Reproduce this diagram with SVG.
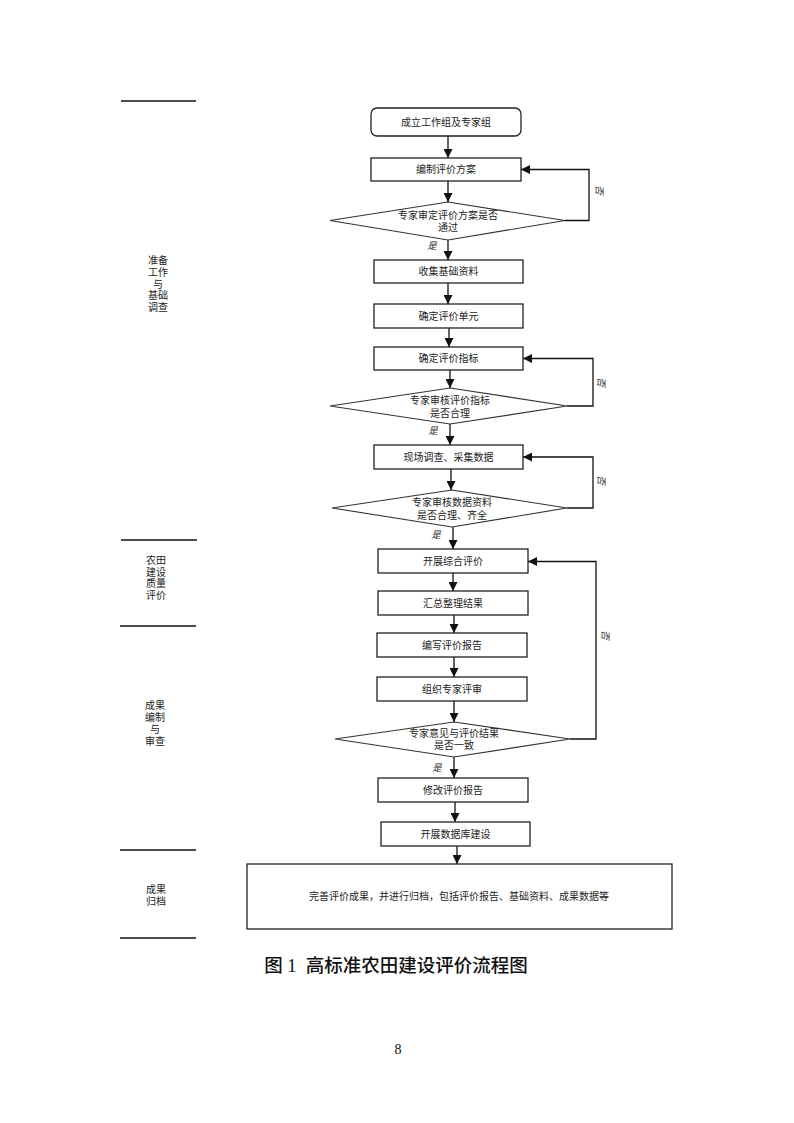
<svg xmlns="http://www.w3.org/2000/svg" width="794" height="1123" viewBox="0 0 794 1123">
<style>
.bg{fill:#fff}
.box{fill:#fff;stroke:#222;stroke-width:1.3}
.dia{fill:#fff;stroke:#333;stroke-width:1.2}
.t{font-family:"Noto Sans CJK SC",sans-serif;font-size:10px;fill:#222;text-anchor:middle}
.lab{font-family:"Noto Sans CJK SC",sans-serif;font-size:10px;fill:#222;text-anchor:middle}
.yn{font-family:"Noto Sans CJK SC",sans-serif;font-size:9.5px;fill:#222;text-anchor:middle;font-style:italic}
.sep{stroke:#111;stroke-width:1.5}
.c{fill:none;stroke:#111;stroke-width:1.3}
</style>
<defs>
<marker id="ah" markerUnits="userSpaceOnUse" markerWidth="9" markerHeight="9" viewBox="0 0 10 10" refX="10" refY="5" orient="auto">
<path d="M0,0 L10,5 L0,10 z" fill="#111"/>
</marker>
</defs>
<rect class="bg" x="0" y="0" width="794" height="1123"/>

<g id="stages">
<line class="sep" x1="121" y1="101" x2="196" y2="101"/>
<text class="lab"><tspan x="158" y="264">准备</tspan><tspan x="158" y="276">工作</tspan><tspan x="158" y="287.5">与</tspan><tspan x="158" y="299">基础</tspan><tspan x="158" y="311">调查</tspan></text>
<line class="sep" x1="121" y1="540" x2="197" y2="540"/>
<text class="lab"><tspan x="156" y="564">农田</tspan><tspan x="156" y="575.5">建设</tspan><tspan x="156" y="587">质量</tspan><tspan x="156" y="599">评价</tspan></text>
<line class="sep" x1="120" y1="626" x2="196" y2="626"/>
<text class="lab"><tspan x="155" y="709">成果</tspan><tspan x="155" y="721">编制</tspan><tspan x="155" y="733">与</tspan><tspan x="155" y="745">审查</tspan></text>
<line class="sep" x1="120" y1="850" x2="196" y2="850"/>
<text class="lab"><tspan x="156" y="893">成果</tspan><tspan x="156" y="905">归档</tspan></text>
<line class="sep" x1="120" y1="938" x2="196" y2="938"/>
</g>

<g id="connectors">
<line class="c" x1="448" y1="136" x2="448" y2="158" marker-end="url(#ah)"/>
<line class="c" x1="448" y1="181" x2="448" y2="202" marker-end="url(#ah)"/>
<line class="c" x1="448" y1="240" x2="448" y2="260" marker-end="url(#ah)"/>
<polyline class="c" points="565,220.5 589,220.5 589,169.5 521,169.5" marker-end="url(#ah)"/>
<line class="c" x1="448" y1="283" x2="448" y2="304" marker-end="url(#ah)"/>
<line class="c" x1="449" y1="328" x2="449" y2="347" marker-end="url(#ah)"/>
<line class="c" x1="450" y1="370" x2="450" y2="388" marker-end="url(#ah)"/>
<line class="c" x1="450" y1="424" x2="450" y2="445" marker-end="url(#ah)"/>
<polyline class="c" points="567,406 593,406 593,358.5 523,358.5" marker-end="url(#ah)"/>
<line class="c" x1="451" y1="469" x2="451" y2="490" marker-end="url(#ah)"/>
<line class="c" x1="453" y1="527" x2="453" y2="549" marker-end="url(#ah)"/>
<polyline class="c" points="567,508 593,508 593,457 523,457" marker-end="url(#ah)"/>
<line class="c" x1="453" y1="573" x2="453" y2="591" marker-end="url(#ah)"/>
<line class="c" x1="454" y1="615" x2="454" y2="633" marker-end="url(#ah)"/>
<line class="c" x1="454" y1="657" x2="454" y2="677" marker-end="url(#ah)"/>
<line class="c" x1="454" y1="701" x2="454" y2="722" marker-end="url(#ah)"/>
<line class="c" x1="454" y1="757" x2="454" y2="778" marker-end="url(#ah)"/>
<polyline class="c" points="570,739 596,739 596,561.5 528,561.5" marker-end="url(#ah)"/>
<line class="c" x1="455" y1="802" x2="455" y2="822" marker-end="url(#ah)"/>
<line class="c" x1="457" y1="846" x2="457" y2="864" marker-end="url(#ah)"/>
<text class="yn" transform="translate(596,190) rotate(90)">否</text>
<text class="yn" x="432" y="249">是</text>
<text class="yn" transform="translate(598,382) rotate(90)">否</text>
<text class="yn" x="433" y="434">是</text>
<text class="yn" transform="translate(598,480) rotate(90)">否</text>
<text class="yn" x="436" y="538">是</text>
<text class="yn" transform="translate(602,635) rotate(90)">否</text>
<text class="yn" x="437" y="771">是</text>
</g>

<g id="n1"><rect class="box" x="371" y="108" width="150" height="28" rx="6"/><text class="t" x="446" y="126">成立工作组及专家组</text></g>
<g id="n2"><rect class="box" x="371" y="158" width="150" height="23"/><text class="t" x="446" y="173">编制评价方案</text></g>
<g id="d1"><polygon class="dia" points="448,202 565,220.5 448,240 330,220.5"/><text class="t"><tspan x="448" y="219">专家审定评价方案是否</tspan><tspan x="448" y="231">通过</tspan></text></g>
<g id="n3"><rect class="box" x="374" y="260" width="149" height="23"/><text class="t" x="448.5" y="275">收集基础资料</text></g>
<g id="n4"><rect class="box" x="374" y="304" width="149" height="24"/><text class="t" x="448.5" y="320">确定评价单元</text></g>
<g id="n5"><rect class="box" x="374" y="347" width="149" height="23"/><text class="t" x="448.5" y="362">确定评价指标</text></g>
<g id="d2"><polygon class="dia" points="450,388 567,406 450,424 330,406"/><text class="t"><tspan x="450" y="404">专家审核评价指标</tspan><tspan x="450" y="416.5">是否合理</tspan></text></g>
<g id="n6"><rect class="box" x="374" y="445" width="149" height="24"/><text class="t" x="448.5" y="461">现场调查、采集数据</text></g>
<g id="d3"><polygon class="dia" points="452,490 567,508 452,527 332,508"/><text class="t"><tspan x="452" y="506">专家审核数据资料</tspan><tspan x="452" y="519">是否合理、齐全</tspan></text></g>
<g id="n7"><rect class="box" x="378" y="549" width="150" height="24"/><text class="t" x="453" y="565">开展综合评价</text></g>
<g id="n8"><rect class="box" x="378" y="591" width="150" height="24"/><text class="t" x="453" y="607">汇总整理结果</text></g>
<g id="n9"><rect class="box" x="377" y="633" width="150" height="24"/><text class="t" x="452" y="649">编写评价报告</text></g>
<g id="n10"><rect class="box" x="377" y="677" width="150" height="24"/><text class="t" x="452" y="693">组织专家评审</text></g>
<g id="d4"><polygon class="dia" points="454,722 570,739 454,757 335,739"/><text class="t"><tspan x="454" y="737">专家意见与评价结果</tspan><tspan x="454" y="749">是否一致</tspan></text></g>
<g id="n11"><rect class="box" x="378" y="778" width="150" height="24"/><text class="t" x="453" y="794">修改评价报告</text></g>
<g id="n12"><rect class="box" x="381" y="822" width="149" height="24"/><text class="t" x="455.5" y="838">开展数据库建设</text></g>
<g id="n13"><rect class="box" x="247" y="864" width="425" height="65"/><text class="t" x="459" y="900">完善评价成果，并进行归档，包括评价报告、基础资料、成果数据等</text></g>

<text x="396" y="972" text-anchor="middle" xml:space="preserve" font-family="'Liberation Serif','Noto Sans CJK SC',serif" font-size="18.5" fill="#111" font-weight="500">图 1  高标准农田建设评价流程图</text>
<text x="398" y="1054" text-anchor="middle" font-family="'Liberation Serif',serif" font-size="14" fill="#111">8</text>
</svg>
